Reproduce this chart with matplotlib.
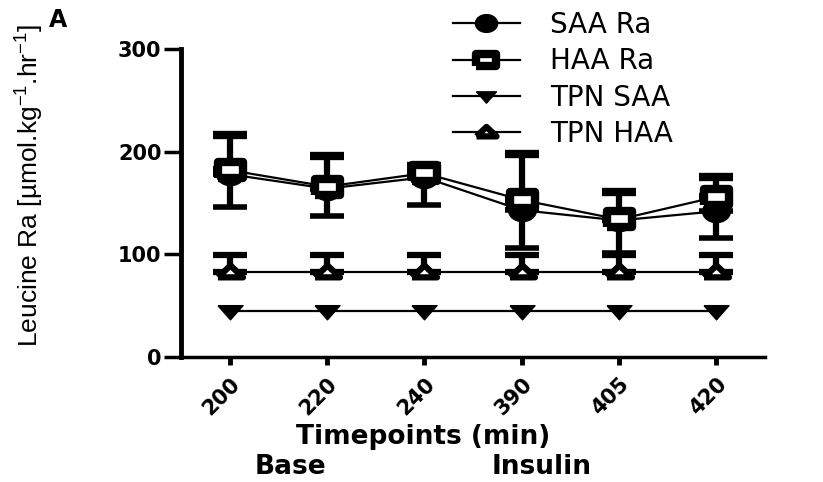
import matplotlib
matplotlib.use('Agg')
import matplotlib.pyplot as plt
import numpy as np

plt.rcParams['mathtext.default'] = 'regular'

# timepoints (min) and leucine Ra values
timepoints = ['200', '220', '240', '390', '405', '420']
saa_ra = [178, 164, 175, 143, 133, 142]
saa_ra_err_low = [32, 27, 27, 37, 32, 26]
haa_ra = [182, 166, 179, 153, 134, 156]
haa_ra_err_up = [34, 30, 7, 45, 27, 19]
tpn_saa = [45, 45, 45, 45, 45, 45]
tpn_haa = [83, 83, 83, 83, 83, 83]
tpn_haa_err_up = [16, 16, 16, 16, 16, 16]
labels = ['SAA Ra', 'HAA Ra', 'TPN SAA', 'TPN HAA']

x = np.arange(len(timepoints))
zeros = [0] * len(x)

# the original figure is stretched sideways, so use wide marker shapes
t = np.linspace(0, 2*np.pi, 40)
wide_circle = list(zip(1.25*np.cos(t), np.sin(t)))
wide_square = [(-1.6, -1), (1.6, -1), (1.6, 1), (-1.6, 1), (-1.6, -1)]
wide_down = [(-1.5, 0.7), (1.5, 0.7), (0, -1), (-1.5, 0.7)]
wide_up = [(-1.8, -0.7), (1.8, -0.7), (0, 1), (-1.8, -0.7)]

fig = plt.figure(figsize=(8.23, 4.82), dpi=100)
ax = fig.add_axes([181/823, 1-357/482, (765-181)/823, (357-49)/482])

eb = dict(color='black', lw=1.6, elinewidth=4.5, capsize=12, capthick=4)

c1 = ax.errorbar(x, saa_ra, yerr=[saa_ra_err_low, zeros], marker=wide_circle, ms=20,
                 mfc='black', mec='black', **eb)
c2 = ax.errorbar(x, haa_ra, yerr=[zeros, haa_ra_err_up], marker=wide_square, ms=18,
                 mfc='white', mec='black', mew=6, **eb)
c3 = ax.errorbar(x, tpn_saa, marker=wide_down, ms=18, mfc='black', mec='black', **eb)
c4 = ax.errorbar(x, tpn_haa, yerr=[zeros, tpn_haa_err_up], marker=wide_up, ms=18,
                 mfc='white', mec='black', mew=4.5, **eb)

ax.set_xlim(-0.5, 5.5)
ax.set_ylim(0, 300)
ax.set_yticks([0, 100, 200, 300])
ax.set_xticks(x)
ax.set_xticklabels(timepoints, rotation=45, ha='right', rotation_mode='anchor')

for s in ['top', 'right']:
    ax.spines[s].set_visible(False)
ax.spines['left'].set_linewidth(3.5)
ax.spines['bottom'].set_linewidth(2.5)
ax.tick_params(axis='y', width=2.5, length=12, labelsize=15, pad=2)
ax.tick_params(axis='x', width=3.5, length=6, labelsize=15, pad=6)
for lab in ax.get_xticklabels() + ax.get_yticklabels():
    lab.set_fontweight('bold')

fig.text(30/823, 1-185/482, 'Leucine Ra [µmol.kg$^{-1}$.hr$^{-1}$]', rotation=90,
         ha='center', va='center', fontsize=19, family='Liberation Sans')
fig.text(58/823, 1-20/482, 'A', ha='center', va='center', fontsize=17,
         fontweight='bold')
fig.text(423/823, 1-437/482, 'Timepoints (min)', ha='center', va='center',
         fontsize=19, fontweight='bold')
fig.text(290/823, 1-467/482, 'Base', ha='center', va='center',
         fontsize=19, fontweight='bold')
fig.text(542/823, 1-467/482, 'Insulin', ha='center', va='center',
         fontsize=19, fontweight='bold')

handles = [c[0] for c in (c1, c2, c3, c4)]
leg = ax.legend(handles, labels, loc='upper left', bbox_to_anchor=(453/823, 1-11/482),
                bbox_transform=fig.transFigure, frameon=False, borderpad=0,
                borderaxespad=0, handlelength=2.4, handletextpad=1.1,
                labelspacing=0.3, markerscale=0.8, prop={'size': 20})

fig.savefig('out.png', dpi=100)
